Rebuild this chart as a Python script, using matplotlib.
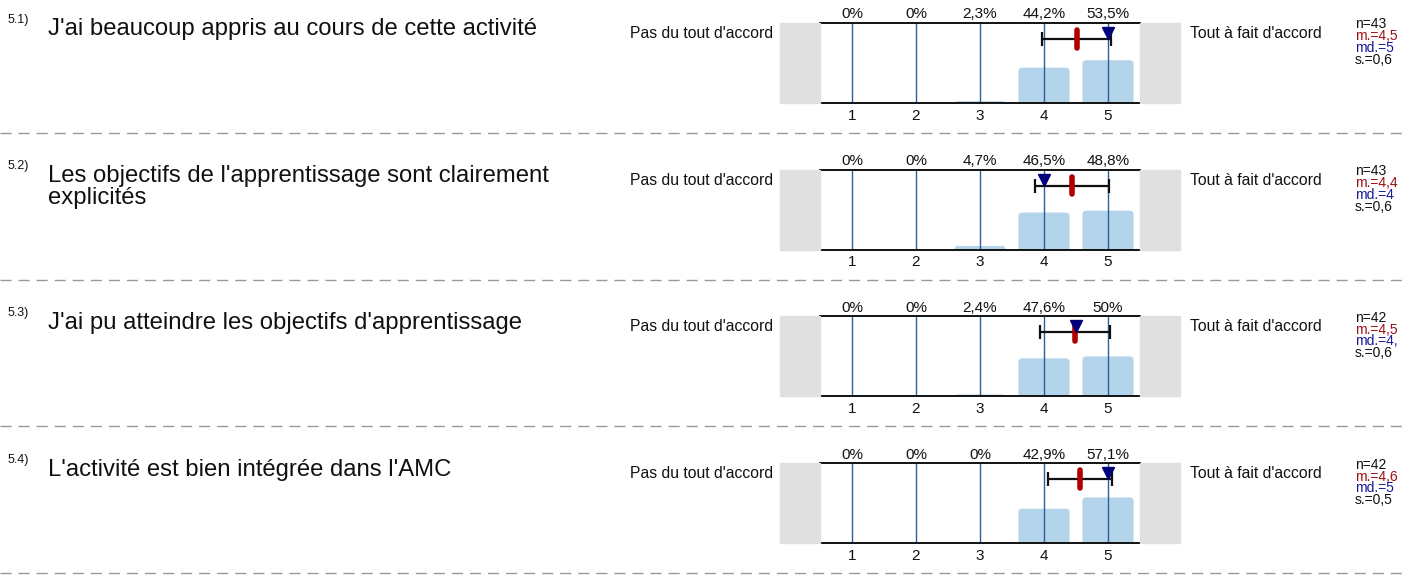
import matplotlib
matplotlib.use("Agg")
import matplotlib.pyplot as plt
from matplotlib.patches import FancyBboxPatch, Rectangle
from matplotlib.lines import Line2D

plt.rcParams['font.family'] = ['Liberation Sans', 'DejaVu Sans']

numbers = ["5.1)", "5.2)", "5.3)", "5.4)"]
questions = [
    ["J'ai beaucoup appris au cours de cette activité"],
    ["Les objectifs de l'apprentissage sont clairement", "explicités"],
    ["J'ai pu atteindre les objectifs d'apprentissage"],
    ["L'activité est bien intégrée dans l'AMC"],
]
categories = [1, 2, 3, 4, 5]
pct_labels = [
    ["0%", "0%", "2,3%", "44,2%", "53,5%"],
    ["0%", "0%", "4,7%", "46,5%", "48,8%"],
    ["0%", "0%", "2,4%", "47,6%", "50%"],
    ["0%", "0%", "0%", "42,9%", "57,1%"],
]
pct_values = [
    [0, 0, 2.3, 44.2, 53.5],
    [0, 0, 4.7, 46.5, 48.8],
    [0, 0, 2.4, 47.6, 50.0],
    [0, 0, 0, 42.9, 57.1],
]
means = [4.51, 4.44, 4.48, 4.57]
medians = [5, 4, 4.5, 5]
sds = [0.54, 0.58, 0.55, 0.50]
n_texts = ["n=43", "n=43", "n=42", "n=42"]
m_texts = ["m.=4,5", "m.=4,4", "m.=4,5", "m.=4,6"]
md_texts = ["md.=5", "md.=4", "md.=4,", "md.=5"]
s_texts = ["s.=0,6", "s.=0,6", "s.=0,6", "s.=0,5"]
left_label = "Pas du tout d'accord"
right_label = "Tout à fait d'accord"

W, H = 1404, 579
DPI = 100
fig = plt.figure(figsize=(W / DPI, H / DPI), dpi=DPI)

def fx(x):
    return x / W

def fy(y):
    return 1 - y / H

bar_color = "#b4d4ec"
grid_color = "#2d5f95"
gray_box = "#e0e0e0"
mean_color = "#b00000"
med_color = "#00007a"
m_text_color = "#9b1010"
md_text_color = "#1a1a96"
txt = "#111111"

row_tops = [23 + i * 146.7 for i in range(4)]
ax_h = 80
ax_left, ax_right = 820, 1140
px_per_x = (ax_right - ax_left) / 5.0
y_per_px = 100.0 / ax_h

for i in range(4):
    top = row_tops[i]
    bottom = top + ax_h
    # gray side boxes
    fig.patches.append(Rectangle((fx(780), fy(bottom)), fx(40), ax_h / H,
                                 transform=fig.transFigure, color=gray_box, zorder=0))
    fig.patches.append(Rectangle((fx(1140), fy(bottom)), fx(40), ax_h / H,
                                 transform=fig.transFigure, color=gray_box, zorder=0))

    ax = fig.add_axes([fx(ax_left), fy(bottom), fx(ax_right - ax_left), ax_h / H])
    ax.set_xlim(0.5, 5.5)
    ax.set_ylim(0, 100)
    for side in ["left", "right"]:
        ax.spines[side].set_visible(False)
    for side in ["top", "bottom"]:
        ax.spines[side].set_linewidth(1.4)
        ax.spines[side].set_color(txt)
        ax.spines[side].set_zorder(5)
    ax.set_yticks([])
    ax.set_xticks(categories)
    ax.set_xticklabels([str(c) for c in categories], fontsize=11, color=txt)
    ax.tick_params(axis="x", length=0, pad=4)

    # bars with rounded tops
    rs = 0.06
    aspect = px_per_x * y_per_px
    for c, v in zip(categories, pct_values[i]):
        if v <= 0:
            continue
        p = FancyBboxPatch((c - 0.4, -10), 0.8, v + 10,
                           boxstyle="round,pad=0,rounding_size=%g" % rs,
                           mutation_aspect=aspect,
                           facecolor=bar_color, edgecolor="none", zorder=1,
                           clip_on=True)
        ax.add_patch(p)

    # vertical lines at each category
    for c in categories:
        ax.axvline(c, color=grid_color, lw=1.0, zorder=2)

    # error bar (mean ± sd)
    y_err = 80
    ax.errorbar([means[i]], [y_err], xerr=[sds[i]], fmt="none", ecolor=txt,
                elinewidth=1.6, capsize=5, capthick=1.6, zorder=3)
    # mean marker
    ax.plot([means[i], means[i]], [y_err - 11, y_err + 11], color=mean_color,
            lw=4, solid_capstyle="round", zorder=4)
    # median marker
    ax.plot([medians[i]], [y_err + 7.5], marker="v", color=med_color,
            markersize=8.5, zorder=4, linestyle="none")

    # percent labels above
    for c, lab in zip(categories, pct_labels[i]):
        ax.text(c, 100 + 4.5 * y_per_px, lab, ha="center", va="baseline",
                fontsize=11, color=txt, clip_on=False)

    # side labels
    fig.text(fx(773), fy(top + 10.5), left_label, ha="right", va="center",
             fontsize=11.3, color=txt)
    fig.text(fx(1190), fy(top + 10.5), right_label, ha="left", va="center",
             fontsize=11.3, color=txt)

    # stats
    fs = 10
    fig.text(fx(1355), fy(top + 1.5), n_texts[i], ha="left", va="center",
             fontsize=fs, color=txt)
    fig.text(fx(1355), fy(top + 13.5), m_texts[i], ha="left", va="center",
             fontsize=fs, color=m_text_color)
    fig.text(fx(1355), fy(top + 25), md_texts[i], ha="left", va="center",
             fontsize=fs, color=md_text_color)
    fig.text(fx(1355), fy(top + 37), s_texts[i], ha="left", va="center",
             fontsize=fs, color=txt)

    # question number and text
    fig.text(fx(8), fy(top - 0.5), numbers[i], ha="left", va="baseline",
             fontsize=9, color=txt)
    for k, line in enumerate(questions[i]):
        fig.text(fx(48), fy(top + 12.5 + 22 * k), line, ha="left", va="baseline",
                 fontsize=17.2, color=txt)

    # dashed separator
    sep_y = top + 110
    fig.lines.append(Line2D([0, 1], [fy(sep_y), fy(sep_y)], transform=fig.transFigure,
                            color="#999999", lw=1.0, linestyle=(0, (8, 5))))

fig.savefig("out.png", dpi=DPI)
